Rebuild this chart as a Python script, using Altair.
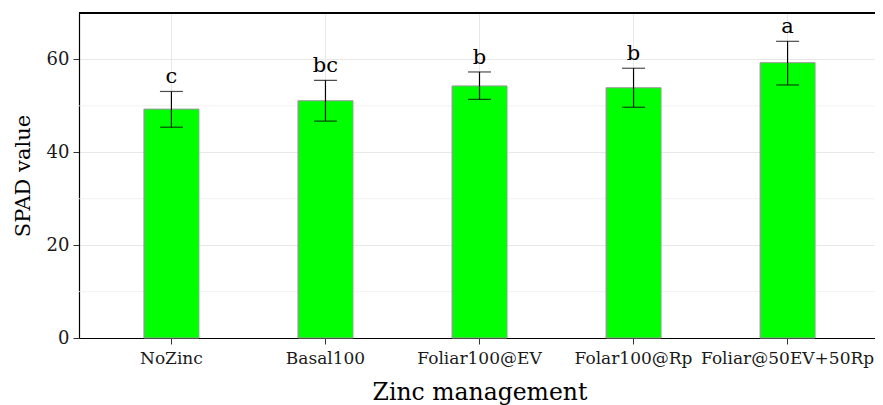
import altair as alt
import pandas as pd

categories = ["NoZinc", "Basal100", "Foliar100@EV", "Folar100@Rp", "Foliar@50EV+50Rp"]
means = [49.3, 51.1, 54.3, 53.9, 59.3]
upper = [53.1, 55.5, 57.3, 58.1, 63.9]
lower = [45.4, 46.7, 51.4, 49.7, 54.5]
letters = ["c", "bc", "b", "b", "a"]
y_ticks = [0, 20, 40, 60]
y_minor = [10, 30, 50, 70]

df = pd.DataFrame({"cat": categories, "mean": means, "upper": upper,
                   "lower": lower, "letter": letters})
minor_df = pd.DataFrame({"v": y_minor})

FONT = "DejaVu Serif"
PLOT_W = 801
PLOT_H = 325
LEFT = 71
SVG_W = 867

xscale = alt.Scale(domain=categories, paddingInner=0, paddingOuter=0.1)
yscale = alt.Scale(domain=[0, 70], nice=False, zero=True)

xaxis = alt.Axis(title="Zinc management", grid=True, gridColor="#e8e8e8",
                 gridWidth=1, labelAngle=0, labelFont=FONT, labelFontSize=17,
                 labelColor="#1a1a1a", labelPadding=6, tickSize=6,
                 tickColor="#333333", domainColor="#000000", domainWidth=1.2,
                 titleFont=FONT, titleFontSize=23.5, titleFontWeight="normal",
                 titleColor="#000000", titlePadding=14)
yaxis = alt.Axis(title="SPAD value", values=y_ticks, grid=True,
                 gridColor="#e8e8e8", gridWidth=1, labelFont=FONT,
                 labelFontSize=18, labelColor="#1a1a1a", labelPadding=4,
                 tickSize=6, tickColor="#333333", domainColor="#000000",
                 domainWidth=1.2, titleFont=FONT, titleFontSize=21,
                 titleFontWeight="normal", titleColor="#000000",
                 titlePadding=13)

base = alt.Chart(df)

minor = alt.Chart(minor_df).mark_rule(color="#efefef", strokeWidth=0.8).encode(
    y=alt.Y("v:Q", scale=yscale, axis=yaxis)
)

bars = base.mark_bar(size=55, color="#00ff00", stroke="#999999",
                     strokeWidth=1).encode(
    x=alt.X("cat:N", scale=xscale, axis=xaxis, sort=categories),
    y=alt.Y("mean:Q", scale=yscale, axis=yaxis),
)

err = base.mark_rule(color="#000000", strokeWidth=1.2).encode(
    x=alt.X("cat:N", scale=xscale, sort=categories),
    y="lower:Q", y2="upper:Q",
)
cap_hi = base.mark_tick(color="#000000", size=23, thickness=1.2,
                        orient="horizontal").encode(
    x=alt.X("cat:N", scale=xscale, sort=categories), y="upper:Q")
cap_lo = base.mark_tick(color="#000000", size=23, thickness=1.2,
                        orient="horizontal").encode(
    x=alt.X("cat:N", scale=xscale, sort=categories), y="lower:Q")

text = base.mark_text(font=FONT, fontSize=21, color="#000000",
                      baseline="alphabetic", dy=-8).encode(
    x=alt.X("cat:N", scale=xscale, sort=categories), y="upper:Q",
    text="letter:N")

top_border = alt.Chart(df).mark_rule(color="#000000", strokeWidth=2).encode(
    x=alt.value(0), x2=alt.value(PLOT_W), y=alt.value(0))

chart = alt.layer(minor, bars, err, cap_hi, cap_lo, text, top_border).properties(
    width=PLOT_W, height=PLOT_H,
    autosize=alt.AutoSizeParams(type="none"),
    padding={"left": LEFT, "top": 5, "right": SVG_W - LEFT - PLOT_W, "bottom": 67},
).configure_view(stroke=None).configure(background="white")

chart.save("out.html", embed_options={"renderer": "svg", "actions": False})
